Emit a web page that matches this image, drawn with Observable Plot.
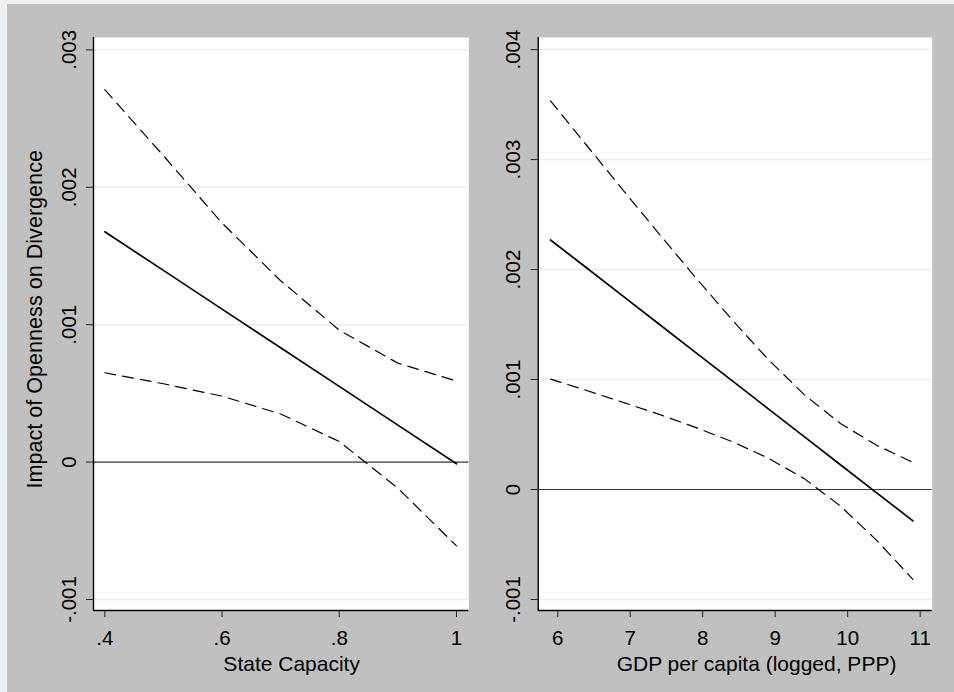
<!DOCTYPE html>
<html>
<head>
<meta charset="utf-8">
<script src="https://cdn.jsdelivr.net/npm/d3@7"></script>
<script src="https://cdn.jsdelivr.net/npm/@observablehq/plot@0.6"></script>
<style>
  html, body { margin: 0; padding: 0; background: #edf1f3; }
  #wrap { position: relative; width: 954px; height: 692px; overflow: hidden; }
  #bg { position: absolute; left: 7px; top: 4px; width: 947px; height: 688px; background: #c0c0c0; }
  .panel { position: absolute; top: 0; }
</style>
</head>
<body>
<div id="wrap"><div id="bg"></div></div>
<script>
// ---- Left panel data ----
const leftX = [0.4, 0.5, 0.6, 0.7, 0.8, 0.9, 1.0];
const leftEst = [0.001676, 0.001395, 0.001113, 0.000832, 0.000551, 0.000269, -0.000012];
const leftUpper = [0.00271, 0.00223, 0.00174, 0.00132, 0.00096, 0.00072, 0.00059];
const leftLower = [0.00065, 0.00057, 0.00048, 0.00035, 0.00015, -0.00019, -0.00061];
const leftXTicks = [0.4, 0.6, 0.8, 1.0];
const leftXLabels = [".4", ".6", ".8", "1"];
const leftYTicks = [-0.001, 0, 0.001, 0.002, 0.003];
const leftYLabels = ["-.001", "0", ".001", ".002", ".003"];
const leftXTitle = "State Capacity";
const yTitle = "Impact of Openness on Divergence";

// ---- Right panel data ----
const rightX = [5.9, 6.4, 6.9, 7.4, 7.9, 8.4, 8.9, 9.4, 9.9, 10.4, 10.9];
const rightEst = [0.002269, 0.002014, 0.001758, 0.001503, 0.001247, 0.000992, 0.000736, 0.000481, 0.000225, -0.000030, -0.000285];
const rightUpper = [0.003534, 0.003128, 0.002723, 0.002323, 0.001929, 0.001547, 0.001185, 0.000863, 0.000600, 0.000402, 0.000247];
const rightLower = [0.001004, 0.000900, 0.000793, 0.000683, 0.000565, 0.000437, 0.000287, 0.000099, -0.000150, -0.000462, -0.000817];
const rightXTicks = [6, 7, 8, 9, 10, 11];
const rightXLabels = ["6", "7", "8", "9", "10", "11"];
const rightYTicks = [-0.001, 0, 0.001, 0.002, 0.003, 0.004];
const rightYLabels = ["-.001", "0", ".001", ".002", ".003", ".004"];
const rightXTitle = "GDP per capita (logged, PPP)";

const FONT = "'Liberation Sans', Arial, Helvetica, sans-serif";

function panel(cfg) {
  const rows = cfg.xs.map((x, i) => ({x, est: cfg.est[i], up: cfg.up[i], lo: cfg.lo[i]}));
  const marks = [
    Plot.frame({fill: "white", stroke: "none"}),
    Plot.gridY(cfg.yTicks, {stroke: "#e6eef0", strokeOpacity: 1, strokeWidth: 1.5}),
    Plot.ruleY([0], {stroke: "#3c3c3c", strokeWidth: 1.2}),
    Plot.line(rows, {x: "x", y: "up", stroke: "black", strokeWidth: 1.2, strokeDasharray: "11,7"}),
    Plot.line(rows, {x: "x", y: "lo", stroke: "black", strokeWidth: 1.2, strokeDasharray: "11,7"}),
    Plot.line(rows, {x: "x", y: "est", stroke: "black", strokeWidth: 1.7}),
    Plot.ruleX([cfg.xDomain[0]], {stroke: "black", strokeWidth: 1.4}),
    Plot.ruleY([cfg.yDomain[0]], {stroke: "black", strokeWidth: 1.4}),
    Plot.axisX(cfg.xTicks, {
      tickSize: 7, tickPadding: 13, stroke: "#222", fill: "black", fontSize: 20.5,
      tickFormat: d => cfg.xLabels[cfg.xTicks.indexOf(d)], label: null
    }),
    Plot.axisY(cfg.yTicks, {
      tickSize: 7, tickPadding: 11, tickRotate: -90, stroke: "#222", fill: "black", fontSize: 20.5,
      tickFormat: d => cfg.yLabels[cfg.yTicks.indexOf(d)], label: null
    }),
    Plot.text([cfg.xTitle], {
      frameAnchor: "bottom", lineAnchor: "bottom", textAnchor: "middle",
      dy: 60.5, dx: cfg.xTitleDx, fontSize: 21, fill: "black"
    })
  ];
  if (cfg.yTitle) {
    marks.push(Plot.text([cfg.yTitle], {
      frameAnchor: "left", rotate: -90, lineAnchor: "bottom", textAnchor: "middle",
      dx: -51.5, dy: -4.7, fontSize: 21.6, fill: "black"
    }));
  }
  const svg = Plot.plot({
    width: 477, height: 692,
    marginLeft: cfg.ml, marginRight: cfg.mr, marginTop: 37, marginBottom: 82,
    x: {domain: cfg.xDomain},
    y: {domain: cfg.yDomain},
    style: {background: "transparent", fontFamily: FONT, fontSize: "20.5px", color: "black", overflow: "visible"},
    marks
  });
  svg.classList.add("panel");
  svg.style.left = cfg.left + "px";
  svg.style.position = "absolute";
  svg.style.top = "0px";
  document.getElementById("wrap").appendChild(svg);
}

panel({
  xs: leftX, est: leftEst, up: leftUpper, lo: leftLower,
  xTicks: leftXTicks, xLabels: leftXLabels, yTicks: leftYTicks, yLabels: leftYLabels,
  xDomain: [0.3807, 1.021], yDomain: [-0.00108, 0.00309],
  ml: 93, mr: 8.7, left: 0, xTitle: leftXTitle, xTitleDx: 10.5, yTitle: yTitle
});
panel({
  xs: rightX, est: rightEst, up: rightUpper, lo: rightLower,
  xTicks: rightXTicks, xLabels: rightXLabels, yTicks: rightYTicks, yLabels: rightYLabels,
  xDomain: [5.730, 11.166], yDomain: [-0.0011, 0.00411],
  ml: 60.7, mr: 22.3, left: 477, xTitle: rightXTitle, xTitleDx: 21.3, yTitle: null
});
</script>
</body>
</html>
